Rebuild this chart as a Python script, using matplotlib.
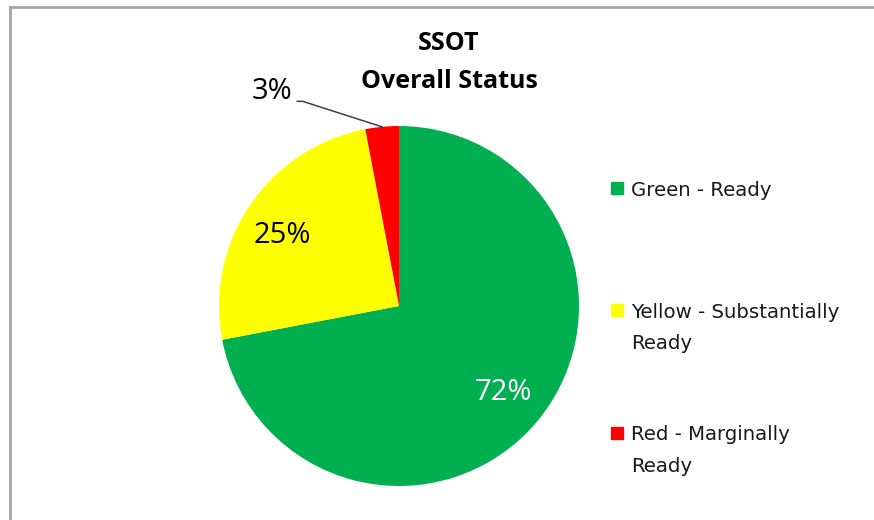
import numpy as np
import matplotlib.pyplot as plt
from matplotlib.lines import Line2D
from matplotlib.patches import Rectangle

plt.rcParams['font.family'] = ['Open Sans', 'DejaVu Sans']

labels = ["Green - Ready", "Yellow - Substantially\nReady", "Red - Marginally\nReady"]
values = [72, 25, 3]
colors = ["#00B050", "#FFFF00", "#FF0000"]
pct_colors = ["white", "black", "black"]

W, H = 874, 520
fig = plt.figure(figsize=(W / 100, H / 100), dpi=100)

# pie box in pixels: x 219..579, y 126..486 (top origin)
ax = fig.add_axes([219 / W, (H - 486) / H, 360 / W, 360 / H])
wedges, texts, autotexts = ax.pie(values, colors=colors, startangle=90, counterclock=False,
                                  autopct=lambda p: f"{p:.0f}%", pctdistance=0.75,
                                  wedgeprops=dict(linewidth=0), textprops=dict(fontsize=21))
ax.set_xlim(-1, 1)
ax.set_ylim(-1, 1)
ax.set_aspect("equal")
ax.axis("off")

for t, c in zip(autotexts, pct_colors):
    t.set_color(c)
x, y = autotexts[1].get_position()
autotexts[1].set_position((x - 0.03, y - 0.03))

# small slice: label outside with leader line
red = wedges[2]
mid = np.deg2rad((red.theta1 + red.theta2) / 2)
autotexts[2].set_position((-0.705, 1.19))
ax.plot([-0.565, -0.535, np.cos(mid), ], [1.137, 1.137, np.sin(mid)],
        color="#404040", lw=1.1, clip_on=False)

# title
fig.text(449 / W, 1 - 50 / H, "SSOT", ha="center", va="baseline", fontsize=18, fontweight="bold")
fig.text(449 / W, 1 - 88 / H, "Overall Status", ha="center", va="baseline", fontsize=18, fontweight="bold")

# legend
line_h = 31
for i, (lab, col) in enumerate(zip(labels, colors)):
    yb = 195.5 + 122.5 * i
    fig.add_artist(Rectangle((611 / W, 1 - (yb - 2) / H), 12 / W, 12 / H, color=col,
                             transform=fig.transFigure))
    # baseline of the last line
    yl = yb + line_h * lab.count("\n")
    fig.text(631 / W, 1 - yl / H, lab, ha="left", va="baseline", fontsize=14.2,
             family="DejaVu Sans", linespacing=1.82, color="#1a1a1a")

# frame edges
fig.add_artist(Line2D([10 / W, 10 / W], [0, 1 - 7 / H], color="#a6a6a6", lw=2,
                      transform=fig.transFigure))
fig.add_artist(Line2D([10 / W, 1], [1 - 7 / H, 1 - 7 / H], color="#a6a6a6", lw=2,
                      transform=fig.transFigure))

fig.savefig("out.png", dpi=100)
